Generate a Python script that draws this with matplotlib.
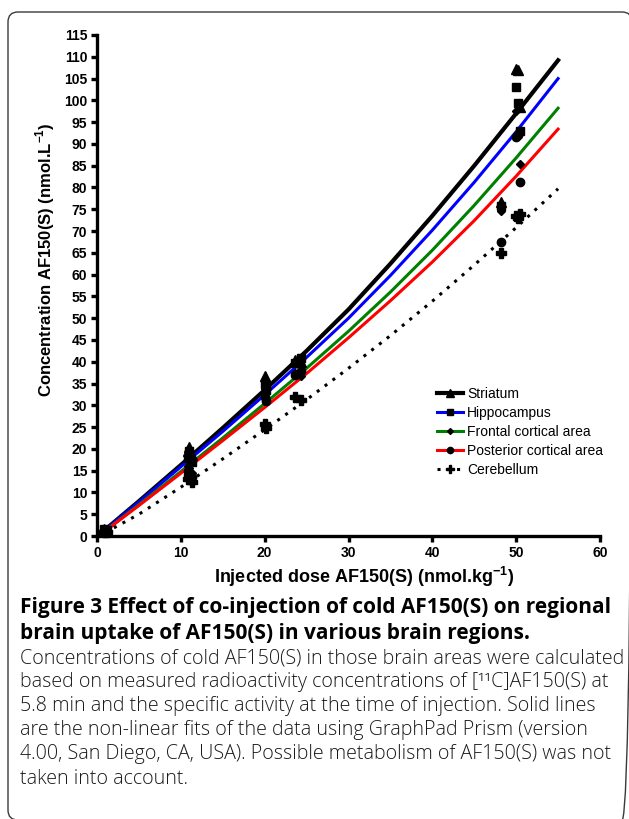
import numpy as np
import matplotlib
matplotlib.use("Agg")
import matplotlib.pyplot as plt
from matplotlib.patches import FancyBboxPatch
from matplotlib.lines import Line2D

# fitted curves
fit_x = [1, 5, 10, 15, 20, 25, 30, 35, 40, 45, 50, 55]
fit_striatum = [1.5, 8.0, 16.3, 24.8, 33.5, 42.5, 52.0, 62.5, 73.5, 85.0, 97.0, 109.2]
fit_hippo = [1.5, 7.8, 15.9, 24.0, 32.4, 41.0, 50.0, 59.8, 70.2, 81.2, 92.8, 105.0]
fit_frontal = [1.2, 7.2, 14.8, 22.5, 30.4, 38.5, 47.0, 56.0, 65.6, 75.9, 86.8, 98.2]
fit_posterior = [1.2, 7.0, 14.4, 21.9, 29.5, 37.3, 45.5, 54.0, 62.9, 72.4, 82.6, 93.4]
fit_cereb = [0.8, 5.0, 11.2, 17.7, 24.4, 31.3, 38.5, 46.0, 53.9, 62.2, 70.8, 79.7]

# measured points, one dose per animal
dose = [0.8, 1.2, 10.8, 11.0, 11.3, 20.0, 20.2, 23.6, 24.3, 48.2, 50.0, 50.2, 50.4]
striatum = [1.6, 1.2, 19.5, 20.5, 18.5, 36.7, 35.0, 40.5, 40.0, 76.7, 107.2, 107.0, 98.5]
hippo = [1.5, 1.3, 18.0, 19.5, 17.0, 35.0, 33.5, 39.8, 40.8, 75.8, 103.0, 99.5, 93.0]
frontal = [1.4, 1.1, 16.0, 15.5, 14.5, 32.5, 31.5, 37.5, 36.8, 74.5, 97.5, 92.5, 85.5]
posterior = [1.3, 1.0, 15.0, 14.5, 13.5, 32.0, 31.0, 37.0, 37.8, 67.5, 91.5, 92.0, 81.3]
cereb = [1.0, 0.9, 13.0, 14.0, 12.5, 25.8, 24.8, 32.0, 31.3, 65.0, 73.5, 73.0, 73.8]

regions = ["Striatum", "Hippocampus", "Frontal cortical area",
           "Posterior cortical area", "Cerebellum"]

plt.rcParams['font.family'] = ['Liberation Sans', 'DejaVu Sans']
plt.rcParams['mathtext.fontset'] = 'custom'
plt.rcParams['mathtext.rm'] = 'Liberation Sans'
plt.rcParams['mathtext.bf'] = 'Liberation Sans:bold'

W, H = 629, 819
fig = plt.figure(figsize=(W / 100, H / 100), dpi=100)

# rounded frame, drawn in pixel units on an overlay
bg = fig.add_axes([0, 0, 1, 1], zorder=-1)
bg.set_xlim(0, W)
bg.set_ylim(H, 0)
bg.axis('off')
bg.add_patch(FancyBboxPatch((8, 12), 624, 808,
                            boxstyle="round,pad=0,rounding_size=10",
                            fill=False, ec="#3a3a3a", lw=1.0))

ax = fig.add_axes([97 / W, 1 - 536 / H, 503 / W, 501 / H])

series = [
    (fit_striatum, striatum, 'k', '-', '^', 7, 3.0),
    (fit_hippo, hippo, '#0000ff', '-', 's', 6, 2.2),
    (fit_frontal, frontal, '#008000', '-', 'D', 4, 2.2),
    (fit_posterior, posterior, '#ff0000', '-', 'o', 6, 2.2),
    (fit_cereb, cereb, 'k', (0, (1, 2.2)), 'P', 7, 2.2),
]

handles = []
for (fy, pts, col, ls, mk, ms, lw), name in zip(series, regions):
    ax.plot(fit_x, fy, color=col, ls=ls, lw=lw, zorder=2)
    ax.plot(dose, pts, ls='none', marker=mk, ms=ms, color='k',
            clip_on=False, zorder=3)
    handles.append(Line2D([], [], color=col, ls=ls, lw=lw, marker=mk,
                          ms=ms * 0.75, mfc='k', mec='k', label=name))

ax.set_xlim(0, 60)
ax.set_ylim(0, 115)
ax.set_xticks(np.arange(0, 61, 10))
ax.set_yticks(np.arange(0, 116, 5))
for s in ['top', 'right']:
    ax.spines[s].set_visible(False)
for s in ['left', 'bottom']:
    ax.spines[s].set_linewidth(2.4)
ax.tick_params(direction='out', length=4, width=2.4, labelsize=10, pad=3)
for lab in ax.get_xticklabels() + ax.get_yticklabels():
    lab.set_fontweight('bold')

ax.set_xlabel(r'Injected dose AF150(S) (nmol.kg$^{\mathbf{-1}}$)',
              fontsize=13, fontweight='bold')
ax.xaxis.set_label_coords(0.531, -(577 - 536) / 501)
ax.set_ylabel(r'Concentration AF150(S) (nmol.L$^{\mathbf{-1}}$)',
              fontsize=12, fontweight='bold')
ax.yaxis.set_label_coords(-(97 - 45) / 503, 0.551)
ax.xaxis.label.set_va('center')
ax.yaxis.label.set_va('center')

ax.legend(handles=handles, loc='upper left', bbox_to_anchor=(0.676, 0.298),
          frameon=False, fontsize=10, handlelength=1.87, handletextpad=0.3,
          labelspacing=0.37, borderaxespad=0, borderpad=0)

# caption
cap_font = ['Open Sans', 'DejaVu Sans']
title = ["Figure 3 Effect of co-injection of cold AF150(S) on regional",
         "brain uptake of AF150(S) in various brain regions."]
body = ["Concentrations of cold AF150(S) in those brain areas were calculated",
        "based on measured radioactivity concentrations of [\u00b9\u00b9C]AF150(S) at",
        "5.8 min and the specific activity at the time of injection. Solid lines",
        "are the non-linear fits of the data using GraphPad Prism (version",
        "4.00, San Diego, CA, USA). Possible metabolism of AF150(S) was not",
        "taken into account."]
for i, t in enumerate(title):
    fig.text(20 / W, 1 - (608 + 25 * i) / H, t, family=cap_font,
             fontsize=15, fontweight='bold', va='center', ha='left')
for i, t in enumerate(body):
    fig.text(20 / W, 1 - (658 + 24.1 * i) / H, t, family=cap_font,
             fontsize=14.1, fontweight='light', va='center', ha='left',
             color='#1a1a1a')

fig.savefig("out.png", dpi=100)
